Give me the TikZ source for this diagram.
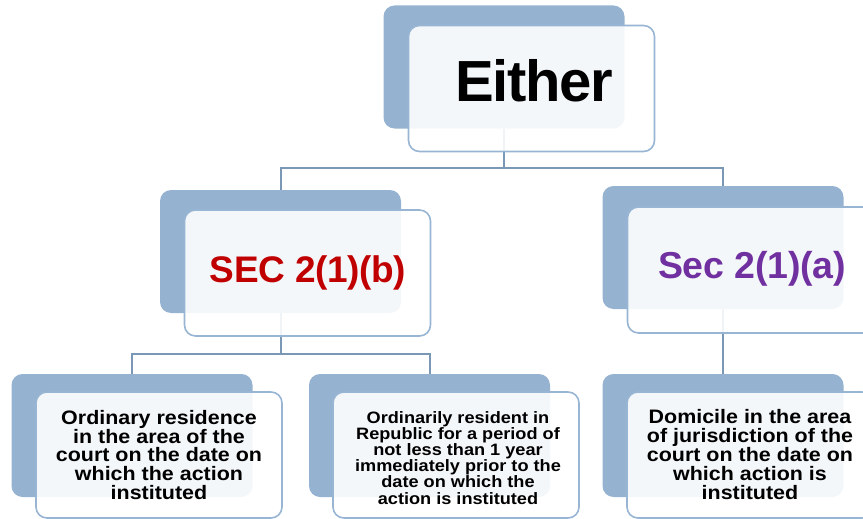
\documentclass[tikz,border=0pt]{standalone}
\usepackage{fontspec}
\setmainfont{Liberation Sans}
\newfontfamily\boxfont[FakeStretch=1.1]{Liberation Sans}
\definecolor{backblue}{RGB}{149,179,208}
\definecolor{edgeblue}{RGB}{152,182,211}
\definecolor{linkblue}{RGB}{122,152,182}
\definecolor{secred}{RGB}{192,0,0}
\definecolor{secpurple}{RGB}{112,48,160}
\tikzset{
  backbox/.style={rectangle, inner sep=0pt, fill=backblue, rounded corners=11pt,
    minimum width=241pt, minimum height=123pt},
  frontbox/.style={rectangle, inner sep=0pt, draw=edgeblue, line width=1.6pt,
    fill=white, fill opacity=0.9, rounded corners=11pt,
    minimum width=246pt, minimum height=126pt},
  link/.style={draw=linkblue, line width=2pt},
  heading/.style={inner sep=0pt, anchor=base, font=\bfseries},
  bodytext/.style={inner sep=0pt, anchor=north, align=center, text=black}
}
\begin{document}
\begin{tikzpicture}[x=1pt,y=-1pt]
\useasboundingbox (0,0) rectangle (863,519);
\clip (0,0) rectangle (863,519);

% back (shadow) boxes
\node[backbox] (eb) at (504,67) {};
\node[backbox] (lb) at (280.5,251.5) {};
\node[backbox] (rb) at (723,247.5) {};
\node[backbox] (b1) at (132,435.5) {};
\node[backbox] (b2) at (429.5,435.5) {};
\node[backbox] (b3) at (723,435.5) {};

% connectors
\coordinate (j1) at (504,168);
\coordinate (j2) at (280.5,354);
\draw[link] (eb.south) -- (j1);
\draw[link] (lb.north) |- (j1) -| (rb.north);
\draw[link] (lb.south) -- (j2);
\draw[link] (b1.north) |- (j2) -| (b2.north);
\draw[link] (rb.south) -- (b3.north);

% front boxes
\node[frontbox] (ef) at (531.5,88.5) {};
\node[frontbox] (lf) at (307.5,273) {};
\node[frontbox] (rf) at (750.5,270) {};
\node[frontbox] (f1) at (159,455) {};
\node[frontbox] (f2) at (456,455) {};
\node[frontbox] (f3) at (750,455) {};

% headings
\node[heading, font={\fontsize{58}{62}\selectfont\bfseries\addfontfeatures{LetterSpace=-2.5}}] (t0) at (534,102) {Either};
\node[heading, text=secred, font={\fontsize{37}{40}\selectfont\bfseries\addfontfeatures{LetterSpace=-1}}] (t1) at (308,282) {SEC 2(1)(b)};
\node[heading, text=secpurple, font={\fontsize{37.5}{40}\selectfont\bfseries\addfontfeatures{LetterSpace=-0.5}}] (t2) at (752,278) {Sec 2(1)(a)};

% box texts
\node[bodytext, font={\boxfont\bfseries\fontsize{19.5}{18.7}\selectfont}] (t3) at (159,410)
  {Ordinary residence\\in the area of the\\court on the date on\\which the action\\instituted};
\node[bodytext, font={\boxfont\bfseries\fontsize{16.5}{16.2}\selectfont}] (t4) at (458,411)
  {Ordinarily resident in\\Republic for a period of\\not less than 1 year\\immediately prior to the\\date on which the\\action is instituted};
\node[bodytext, font={\boxfont\bfseries\fontsize{19.5}{19}\selectfont}] (t5) at (750,409)
  {Domicile in the area\\of jurisdiction of the\\court on the date on\\which action is\\instituted};
\end{tikzpicture}
\end{document}
